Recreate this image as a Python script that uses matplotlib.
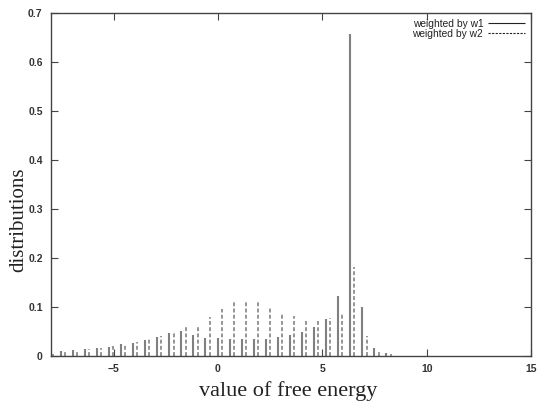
import numpy as np
import matplotlib.pyplot as plt

# histogram bins (solid w1 series sits slightly left of the dashed w2 series)
bin_start = -7.535
bin_width = 0.578
pair_offset = 0.205

w1_values = [0.011, 0.012, 0.014, 0.016, 0.019, 0.024, 0.027, 0.033, 0.038, 0.046,
             0.052, 0.043, 0.037, 0.036, 0.034, 0.034, 0.035, 0.035, 0.038, 0.043,
             0.049, 0.059, 0.076, 0.122, 0.658, 0.099, 0.017, 0.006]
w2_values = [0.005, 0.011, 0.012, 0.014, 0.016, 0.020, 0.024, 0.029, 0.034, 0.041,
             0.051, 0.062, 0.062, 0.079, 0.096, 0.113, 0.110, 0.110, 0.097, 0.088,
             0.082, 0.075, 0.072, 0.077, 0.088, 0.182, 0.041, 0.010, 0.005]

x_ticks = [-5, 0, 5, 10, 15]
y_ticks = [0, 0.1, 0.2, 0.3, 0.4, 0.5, 0.6, 0.7]
y_ticklabels = ['0', '0.1', '0.2', '0.3', '0.4', '0.5', '0.6', '0.7']

w1_x = bin_start + bin_width * np.arange(len(w1_values))
# w2 series starts one bin earlier
w2_x = bin_start - bin_width + pair_offset + bin_width * np.arange(len(w2_values))

fig = plt.figure(figsize=(5.39, 4.04), dpi=100)
ax = fig.add_axes([0.0946, 0.1188, 0.8905, 0.8490])

ax.vlines(w1_x, 0, w1_values, colors='#808080', linewidth=1.5,
          linestyles='solid', label='weighted by w1')
ax.vlines(w2_x, 0, w2_values, colors='#959595', linewidth=1.4,
          linestyles=(0, (2.0, 1.2)), label='weighted by w2')

ax.set_xlim(-8, 15)
ax.set_ylim(0, 0.7)
ax.set_xticks(x_ticks)
ax.set_yticks(y_ticks)
ax.set_yticklabels(y_ticklabels)
ax.tick_params(direction='in', length=5, width=0.8, color='#444444',
               top=True, right=True, labelsize=7.5, pad=6)
for lab in ax.get_xticklabels() + ax.get_yticklabels():
    lab.set_fontweight('bold')
    lab.set_fontfamily('Liberation Sans')
    lab.set_color('#333333')
for sp in ax.spines.values():
    sp.set_color('#444444')
    sp.set_linewidth(1.0)

leg = ax.legend(loc='upper right', frameon=False,
                handlelength=3.6, markerfirst=False, borderaxespad=0.15,
                labelspacing=0.02, handletextpad=0.5,
                prop={'family': 'Liberation Sans', 'size': 7.4})
for h in leg.get_lines():
    h.set_color('#222222')
    h.set_linewidth(0.8)
for t in leg.get_texts():
    t.set_color('#222222')

fig.text(0.034, 0.455, 'distributions', rotation=90, ha='center', va='center',
         fontsize=15, family='Liberation Serif', color='#222222')
fig.text(0.535, 0.019, 'value of free energy', ha='center', va='baseline',
         fontsize=16, family='Liberation Serif', color='#222222')

fig.savefig('out.png', dpi=100)
